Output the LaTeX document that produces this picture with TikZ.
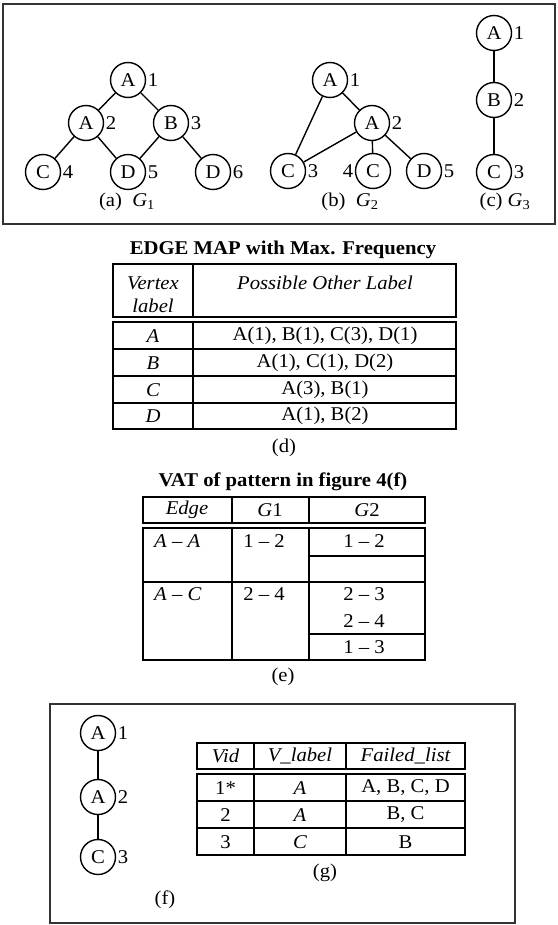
\documentclass[tikz,border=0pt]{standalone}
\usepackage{fontspec}
\setmainfont{Liberation Serif}[FakeStretch=1.06]
\newcommand\ff{\fontsize{19.5}{23}\selectfont}
\begin{document}
\begin{tikzpicture}[x=1pt,y=-1pt,
  every node/.style={font=\ff, inner sep=0pt},
  vtx/.style={circle, draw, line width=1.4pt, minimum size=35pt, inner sep=0pt},
  rl/.style={label={[label distance=1.5pt]right:#1}},
  ll/.style={label={[label distance=1.5pt]left:#1}},
  edge/.style={line width=1.4pt},
  frame/.style={draw=black!80, line width=1.4pt},
  tab/.style={line width=1.4pt},
  ttl/.style={font=\ff\bfseries}]
\useasboundingbox (0,0) rectangle (557,925);
% ---------- top frame ----------
\draw[frame] (3,4) rectangle (555,224);
% G1
\node[vtx,rl=1] (ga1) at (128,80) {A};
\node[vtx,rl=2] (ga2) at (86,123) {A};
\node[vtx,rl=3] (gb3) at (171,123) {B};
\node[vtx,rl=4] (gc4) at (43,172) {C};
\node[vtx,rl=5] (gd5) at (128,172) {D};
\node[vtx,rl=6] (gd6) at (213,172) {D};
\draw[edge] (ga1) -- (ga2) (ga1) -- (gb3) (ga2) -- (gc4) (ga2) -- (gd5) (gb3) -- (gd5) (gb3) -- (gd6);
\node (capa) at (127,202) {(a)\ \ \textit{G}\textsubscript{1}};
% G2
\node[vtx,rl=1] (ha1) at (330,80) {A};
\node[vtx,rl=2] (ha2) at (372,123) {A};
\node[vtx,rl=3] (hc3) at (288,171) {C};
\node[vtx,ll=4] (hc4) at (373,171) {C};
\node[vtx,rl=5] (hd5) at (424,171) {D};
\draw[edge] (ha1) -- (hc3) (ha1) -- (ha2) (ha2) -- (hc3) (ha2) -- (hc4) (ha2) -- (hd5);
\node (capb) at (350,202) {(b)\ \ \textit{G}\textsubscript{2}};
% G3
\node[vtx,rl=1] (ka1) at (494,33) {A};
\node[vtx,rl=2] (kb2) at (494,100) {B};
\node[vtx,rl=3] (kc3) at (494,172) {C};
\draw[edge] (ka1) -- (kb2) (kb2) -- (kc3);
\node (capc) at (505,202) {(c)\ \textit{G}\textsubscript{3}};
% ---------- table (d) ----------
\node[ttl] (titd) at (283,250) {EDGE MAP with Max. Frequency};
\draw[tab] (113,264) rectangle (456,317) (193,264) -- (193,317);
\draw[tab] (113,322) rectangle (456,429) (193,322) -- (193,429);
\foreach \yy in {349,376,403} \draw[tab] (113,\yy) -- (456,\yy);
\node (dh1) at (153,283) {\itshape Vertex};
\node (dh2) at (153,306) {\itshape label};
\node (dh3) at (325,283) {\itshape Possible Other Label};
\node (dr1a) at (153,336) {\itshape A};
\node (dr1b) at (325,336) {A(1), B(1), C(3), D(1)};
\node (dr2a) at (153,363) {\itshape B};
\node (dr2b) at (325,363) {A(1), C(1), D(2)};
\node (dr3a) at (153,390) {\itshape C};
\node (dr3b) at (325,390) {A(3), B(1)};
\node (dr4a) at (153,416) {\itshape D};
\node (dr4b) at (325,416) {A(1), B(2)};
\node (capd) at (284,448) {(d)};
% ---------- table (e) ----------
\node[ttl] (tite) at (283,482) {VAT of pattern in figure 4(f)};
\draw[tab] (143,497) rectangle (425,523) (232,497) -- (232,523) (309,497) -- (309,523);
\draw[tab] (143,528) rectangle (425,660) (143,582) -- (425,582)
  (232,528) -- (232,660) (309,528) -- (309,660)
  (309,556) -- (425,556) (309,634) -- (425,634);
\node (eh1) at (187,510) {\itshape Edge};
\node (eh2) at (270,510) {\textit{G}1};
\node (eh3) at (367,510) {\textit{G}2};
\node[anchor=west] (ea1) at (154,541) {\textit{A} – \textit{A}};
\node (ea2) at (264,541) {1 – 2};
\node (ea3) at (364,541) {1 – 2};
\node[anchor=west] (eb1) at (154,594) {\textit{A} – \textit{C}};
\node (eb2) at (264,594) {2 – 4};
\node (eb3) at (364,594) {2 – 3};
\node (eb4) at (364,621) {2 – 4};
\node (eb5) at (364,647) {1 – 3};
\node (cape) at (283,677) {(e)};
% ---------- bottom frame ----------
\draw[frame] (50,704) rectangle (515,923);
\node[vtx,rl=1] (fa1) at (98,733) {A};
\node[vtx,rl=2] (fa2) at (98,797) {A};
\node[vtx,rl=3] (fc3) at (98,857) {C};
\draw[edge] (fa1) -- (fa2) (fa2) -- (fc3);
\node (capf) at (165,900) {(f)};
\draw[tab] (197,743) rectangle (465,769) (254,743) -- (254,769) (346,743) -- (346,769);
\draw[tab] (197,774) rectangle (465,855) (254,774) -- (254,855) (346,774) -- (346,855)
  (197,801) -- (465,801) (197,828) -- (465,828);
\node (gh1) at (225.5,756) {\itshape Vid};
\node (gh2) at (300,756) {\itshape V\_label};
\node (gh3) at (405.5,756) {\itshape Failed\_list};
\node (g11) at (225.5,788) {1*};
\node (g12) at (300,788) {\itshape A};
\node (g13) at (405.5,788) {A, B, C, D};
\node (g21) at (225.5,815) {2};
\node (g22) at (300,815) {\itshape A};
\node (g23) at (405.5,815) {B, C};
\node (g31) at (225.5,842) {3};
\node (g32) at (300,842) {\itshape C};
\node (g33) at (405.5,842) {B};
\node (capg) at (325,873) {(g)};
\end{tikzpicture}
\end{document}
